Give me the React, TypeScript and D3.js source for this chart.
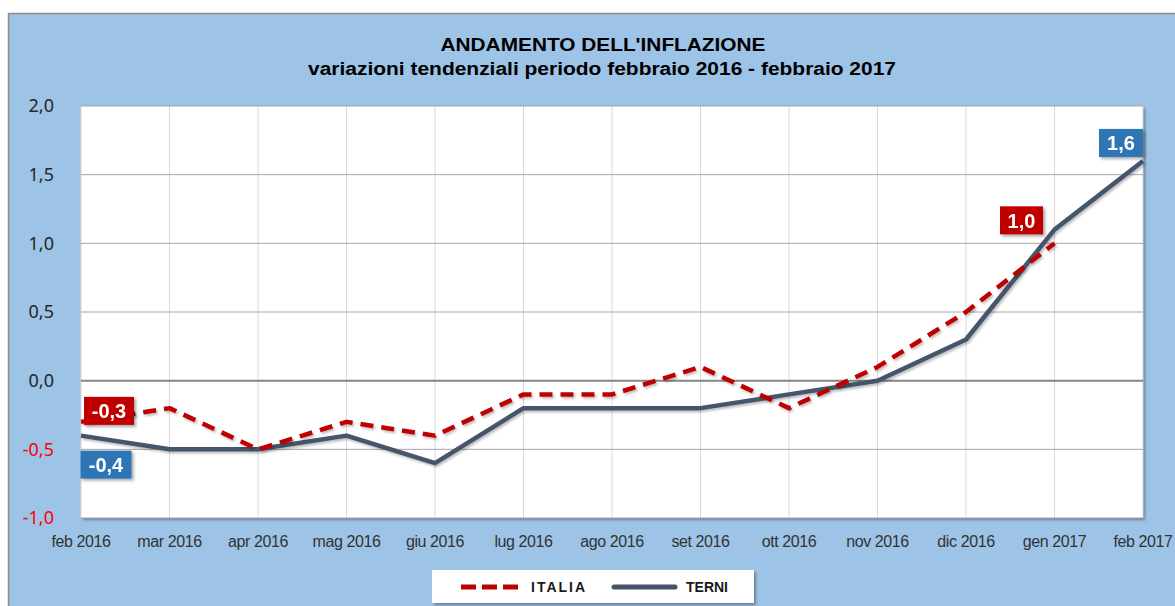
import * as d3 from "d3";

const WIDTH = 1175;
const HEIGHT = 606;
const PLOT = { left: 81, right: 1143, top: 106, bottom: 518 };

const months = [
  "feb 2016", "mar 2016", "apr 2016", "mag 2016", "giu 2016", "lug 2016", "ago 2016",
  "set 2016", "ott 2016", "nov 2016", "dic 2016", "gen 2017", "feb 2017",
];
const italia: (number | null)[] = [-0.3, -0.2, -0.5, -0.3, -0.4, -0.1, -0.1, 0.1, -0.2, 0.1, 0.5, 1.0, null];
const terni: number[] = [-0.4, -0.5, -0.5, -0.4, -0.6, -0.2, -0.2, -0.2, -0.1, 0.0, 0.3, 1.1, 1.6];
const yTicks = [2.0, 1.5, 1.0, 0.5, 0.0, -0.5, -1.0];

const RED = "#C00000";
const NAVY = "#44546A";
const BLUE_LABEL = "#2E75B6";

const fmt = (v: number) => v.toFixed(1).replace(".", ",");

export default function App() {
  const x = d3.scalePoint<string>().domain(months).range([PLOT.left, PLOT.right]);
  const y = d3.scaleLinear().domain([-1, 2]).range([PLOT.bottom, PLOT.top]);

  const lineItalia = d3
    .line<number | null>()
    .defined((d) => d !== null)
    .x((_, i) => x(months[i])!)
    .y((d) => y(d as number));
  const lineTerni = d3
    .line<number>()
    .x((_, i) => x(months[i])!)
    .y((d) => y(d));

  const lastIt = 11;
  const lastTe = terni.length - 1;
  // data labels, offset from the point they belong to
  const labels = [
    { v: italia[0] as number, cx: x(months[0])! + 28, cy: y(italia[0] as number) - 11, fill: RED, w: 50 },
    { v: terni[0], cx: x(months[0])! + 25, cy: y(terni[0]) + 29, fill: BLUE_LABEL, w: 51 },
    { v: italia[lastIt] as number, cx: x(months[lastIt])! - 33, cy: y(italia[lastIt] as number) - 23, fill: RED, w: 43 },
    { v: terni[lastTe], cx: x(months[lastTe])! - 22, cy: y(terni[lastTe]) - 18, fill: BLUE_LABEL, w: 44 },
  ];

  return (
    <svg
      width={WIDTH}
      height={HEIGHT}
      style={{ position: "absolute", left: 0, top: 0, display: "block" }}
    >
      <defs>
        <filter id="shadow" x="-20%" y="-20%" width="150%" height="160%">
          <feDropShadow dx="2" dy="2" stdDeviation="1.5" floodColor="#000" floodOpacity="0.35" />
        </filter>
        <filter id="lineShadow" x="-5%" y="-20%" width="110%" height="140%">
          <feDropShadow dx="1.5" dy="2" stdDeviation="1.2" floodColor="#000" floodOpacity="0.25" />
        </filter>
      </defs>
      <rect x={0} y={0} width={WIDTH} height={HEIGHT} fill="#fff" />
      <rect x={8.5} y={13.5} width={WIDTH + 10} height={HEIGHT + 10} fill="#9DC3E6" stroke="#8C8C8C" strokeWidth={1.5} />

      <text x={603} y={51} textAnchor="middle" fontFamily="Liberation Sans, Arial, sans-serif" fontWeight="bold" fontSize={19} fill="#000" textLength={325} lengthAdjust="spacingAndGlyphs">
        ANDAMENTO DELL'INFLAZIONE
      </text>
      <text x={602} y={75} textAnchor="middle" fontFamily="Liberation Sans, Arial, sans-serif" fontWeight="bold" fontSize={18} fill="#000" textLength={588} lengthAdjust="spacingAndGlyphs">
        variazioni tendenziali periodo febbraio 2016 - febbraio 2017
      </text>

      <rect x={PLOT.left} y={PLOT.top} width={PLOT.right - PLOT.left} height={PLOT.bottom - PLOT.top} fill="#fff" filter="url(#shadow)" />

      {months.map((m) => (
        <line key={m} x1={x(m)} x2={x(m)} y1={PLOT.top} y2={PLOT.bottom} stroke="#D9D9D9" strokeWidth={1} />
      ))}
      {yTicks.filter((t) => t !== 0).map((t) => (
        <line key={t} x1={PLOT.left} x2={PLOT.right} y1={y(t)} y2={y(t)} stroke="#A6A6A6" strokeWidth={1} />
      ))}
      <line x1={PLOT.left} x2={PLOT.right} y1={y(0)} y2={y(0)} stroke="#868686" strokeWidth={2} />

      {yTicks.map((t) => (
        <text key={t} x={54} y={y(t)} dy="0.36em" textAnchor="end" fontFamily="Noto Sans, sans-serif" fontSize={18} fill={t < 0 ? "#FF0000" : "#262626"}>
          {fmt(t)}
        </text>
      ))}
      {months.map((m) => (
        <text key={m} x={x(m)} y={547} textAnchor="middle" fontFamily="Liberation Sans, Arial, sans-serif" fontSize={16} letterSpacing={-0.4} fill="#333">
          {m}
        </text>
      ))}

      <path d={lineTerni(terni) ?? ""} fill="none" stroke={NAVY} strokeWidth={4.5} strokeLinejoin="round" filter="url(#lineShadow)" />
      <path d={lineItalia(italia) ?? ""} fill="none" stroke={RED} strokeWidth={4.5} strokeDasharray="13,8" strokeLinejoin="round" filter="url(#lineShadow)" />

      {labels.map((l, i) => (
        <g key={i} filter="url(#shadow)">
          <rect x={l.cx - l.w / 2} y={l.cy - 14} width={l.w} height={28} fill={l.fill} />
          <text x={l.cx} y={l.cy} dy="0.36em" textAnchor="middle" fontFamily="Liberation Sans, Arial, sans-serif" fontWeight="bold" fontSize={20} fill="#fff">
            {fmt(l.v)}
          </text>
        </g>
      ))}

      <g filter="url(#shadow)">
        <rect x={432} y={570} width={322} height={33} fill="#fff" />
      </g>
      <line x1={461} x2={519} y1={587} y2={587} stroke={RED} strokeWidth={5} strokeDasharray="15,6" strokeLinecap="butt" />
      <text x={531} y={592} fontFamily="Liberation Sans, Arial, sans-serif" fontWeight="bold" fontSize={14} letterSpacing={2} fill="#1a1a1a">
        ITALIA
      </text>
      <line x1={614} x2={675} y1={587} y2={587} stroke={NAVY} strokeWidth={5} strokeLinecap="round" />
      <text x={686} y={592} fontFamily="Liberation Sans, Arial, sans-serif" fontWeight="bold" fontSize={14} fill="#1a1a1a">
        TERNI
      </text>
    </svg>
  );
}
